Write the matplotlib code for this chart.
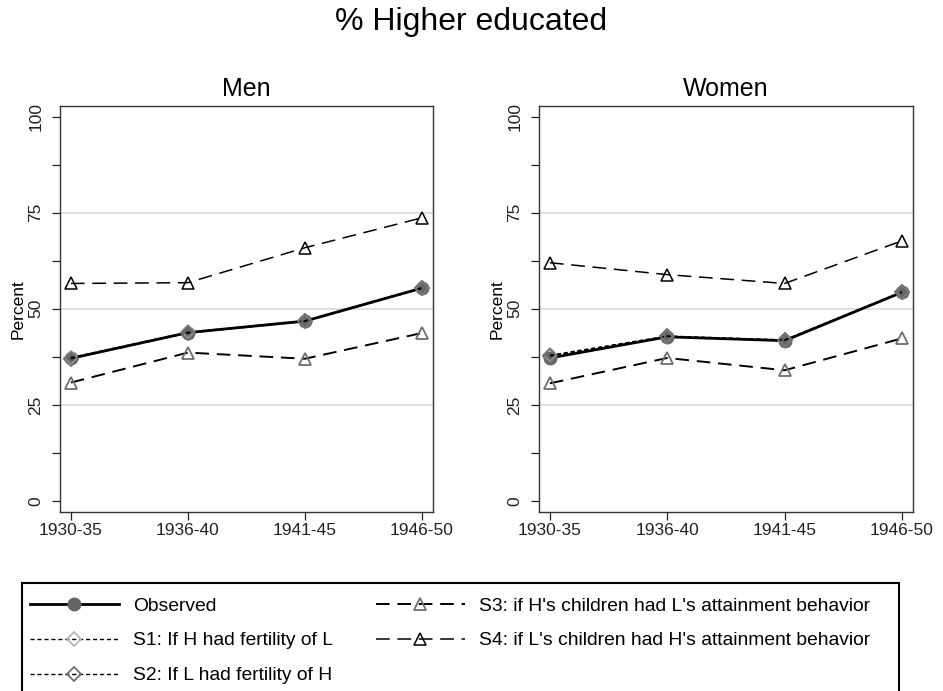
"""
Share of higher educated by birth cohort, men and women,
observed series against four counterfactual scenarios.
"""

import matplotlib

matplotlib.use("Agg")
import matplotlib.pyplot as plt
from matplotlib.patches import Rectangle
from matplotlib.ticker import MultipleLocator

plt.rcParams["font.family"] = ["Liberation Sans", "DejaVu Sans"]

COHORTS = ["1930-35", "1936-40", "1941-45", "1946-50"]

MEN_OBSERVED = [37.1, 43.8, 46.8, 55.4]
MEN_S1 = [37.3, 43.9, 46.9, 55.5]
MEN_S2 = [37.0, 43.7, 46.7, 55.3]
MEN_S3 = [30.8, 38.6, 37.0, 43.7]
MEN_S4 = [56.6, 56.8, 65.9, 73.7]

WOMEN_OBSERVED = [37.2, 42.7, 41.7, 54.3]
WOMEN_S1 = [37.9, 42.9, 41.9, 54.4]
WOMEN_S2 = [37.7, 42.8, 41.8, 54.3]
WOMEN_S3 = [30.6, 37.2, 34.0, 42.3]
WOMEN_S4 = [62.0, 58.9, 56.6, 67.7]

LABELS = [
    "Observed",
    "S1: If H had fertility of L",
    "S2: If L had fertility of H",
    "S3: if H's children had L's attainment behavior",
    "S4: if L's children had H's attainment behavior",
]

STYLES = [
    dict(color="black", lw=2.0, ls="-", marker="o", ms=9,
         mfc="#666666", mec="#666666", zorder=4),
    dict(color="black", lw=1.0, ls=(0, (3, 2)), marker="D", ms=7,
         mfc="none", mec="#b5b5b5", mew=1.3, zorder=5),
    dict(color="black", lw=1.0, ls=(0, (3, 2)), marker="D", ms=7,
         mfc="none", mec="#6e6e6e", mew=1.3, zorder=5),
    dict(color="black", lw=1.4, ls=(0, (7, 4)), marker="^", ms=8,
         mfc="none", mec="#6e6e6e", mew=1.3, zorder=3),
    dict(color="black", lw=1.1, ls=(0, (9, 5)), marker="^", ms=8,
         mfc="none", mec="black", mew=1.1, zorder=3),
]


def draw_panel(ax, title, series):
    x = range(1, len(COHORTS) + 1)
    handles = []
    for values, style, label in zip(series, STYLES, LABELS):
        (line,) = ax.plot(x, values, label=label, **style)
        handles.append(line)

    ax.set_xlim(0.907, 4.094)
    ax.set_ylim(-2.9, 102.8)
    ax.set_xticks(list(x))
    ax.set_xticklabels(COHORTS)
    ax.set_yticks([0, 25, 50, 75, 100])
    ax.yaxis.set_minor_locator(MultipleLocator(12.5))
    for yv in (25, 50, 75):
        ax.axhline(yv, color="#d9d9d9", lw=1.2, zorder=0)

    ax.tick_params(axis="both", which="both", direction="out",
                   length=6, width=0.9, labelsize=12.5, colors="#222222")
    ax.tick_params(axis="x", pad=2)
    ax.tick_params(axis="y", pad=6)
    for lbl in ax.get_yticklabels():
        lbl.set_rotation(90)
        lbl.set_va("center")
    ax.set_ylabel("Percent", fontsize=12.5, labelpad=2)
    ax.set_title(title, fontsize=18, pad=7)
    for spine in ax.spines.values():
        spine.set_linewidth(1.0)
        spine.set_color("#333333")
    return handles


fig = plt.figure(figsize=(9.43, 6.91), dpi=100)
ax_men = fig.add_axes([60 / 943, 1 - 512 / 691, 373 / 943, 406 / 691])
ax_women = fig.add_axes([539 / 943, 1 - 512 / 691, 374 / 943, 406 / 691])

handles = draw_panel(ax_men, "Men",
                     [MEN_OBSERVED, MEN_S1, MEN_S2, MEN_S3, MEN_S4])
draw_panel(ax_women, "Women",
           [WOMEN_OBSERVED, WOMEN_S1, WOMEN_S2, WOMEN_S3, WOMEN_S4])

fig.suptitle("% Higher educated", fontsize=23, y=1 - 22 / 691, va="center")

# legend box runs past the bottom edge of the figure
fig.add_artist(Rectangle((22 / 943, -0.05), 877 / 943, 0.05 + 108 / 691,
                         transform=fig.transFigure, facecolor="white",
                         edgecolor="black", lw=1.5, zorder=1))

leg = fig.legend(
    handles, LABELS,
    loc="upper left",
    bbox_to_anchor=(30 / 943, 1 - 597 / 691),
    ncol=2,
    fontsize=13.9,
    numpoints=1,
    handlelength=4.6,
    handletextpad=0.75,
    columnspacing=2.2,
    labelspacing=0.9,
    borderpad=0,
    borderaxespad=0,
    frameon=False,
)
leg.set_zorder(2)

fig.savefig("out.png", dpi=100)
